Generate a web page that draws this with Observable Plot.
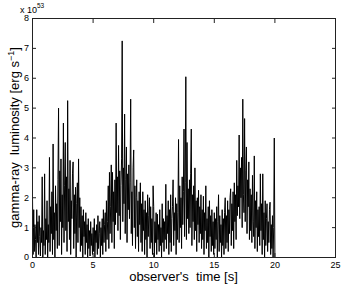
<!DOCTYPE html>
<html><head><meta charset="utf-8">
<script src="https://cdn.jsdelivr.net/npm/d3@7"></script>
<script src="https://cdn.jsdelivr.net/npm/@observablehq/plot@0.6"></script>
<style>html,body{margin:0;padding:0;background:#fff;} svg{display:block}</style>
</head><body><div id="chart"></div>
<script>
// sample spacing of the light curve (s)
const dt = 0.05;
// luminosity in units of 1e53 erg/s, one array per second of observer time
const sec00 = [2.1, 0.1, 1.6, 0.2, 1.1, 0.6, 0.0, 1.6, 0.5, 1.2, 0.1, 1.4, 0.7, 0.05, 1.0, 0.5, 2.7, 0.0, 0.9, 0.4];
const sec01 = [2.8, 0.1, 1.3, 0.6, 1.9, 0.0, 1.1, 0.5, 3.35, 0.2, 1.7, 0.8, 2.2, 0.1, 3.8, 0.6, 1.5, 0.0, 2.4, 0.9];
const sec02 = [1.8, 0.3, 2.6, 5.0, 0.4, 2.9, 1.2, 3.3, 0.1, 2.1, 1.0, 4.5, 0.5, 2.4, 3.85, 0.9, 2.7, 0.2, 5.25, 1.2];
const sec03 = [2.3, 0.6, 3.25, 0.1, 1.9, 1.3, 2.8, 3.2, 0.3, 2.1, 0.8, 2.35, 0.0, 1.8, 2.5, 0.5, 3.3, 1.0, 2.0, 0.2];
const sec04 = [1.7, 0.4, 1.4, 0.0, 1.6, 0.7, 1.2, 0.1, 1.5, 0.5, 1.1, 0.0, 1.3, 0.3, 0.9, 0.05, 1.2, 0.4, 0.8, 0.1];
const sec05 = [1.0, 0.2, 1.3, 0.0, 0.9, 0.5, 1.1, 0.1, 1.4, 0.3, 0.8, 1.2, 0.0, 1.0, 0.4, 1.3, 0.1, 1.6, 0.5, 1.1];
const sec06 = [1.5, 0.2, 1.9, 0.6, 1.2, 2.4, 0.3, 2.85, 0.8, 1.7, 3.1, 0.5, 2.85, 1.2, 2.2, 0.3, 2.6, 1.1, 4.5, 1.5];
const sec07 = [2.7, 0.9, 3.75, 1.4, 2.9, 0.6, 2.4, 3.3, 7.25, 1.2, 3.0, 1.8, 4.8, 0.8, 2.6, 3.7, 0.5, 2.8, 1.6, 3.1];
const sec08 = [1.3, 2.5, 5.3, 0.8, 2.2, 0.4, 3.0, 3.6, 1.0, 2.4, 0.3, 2.0, 2.6, 0.7, 1.9, 0.2, 2.2, 1.1, 2.5, 0.5];
const sec09 = [1.8, 0.2, 2.2, 0.9, 1.6, 0.1, 1.9, 0.6, 1.5, 0.0, 2.1, 0.7, 1.4, 2.0, 0.3, 1.7, 0.5, 1.3, 0.1, 2.4];
const sec10 = [1.7, 0.0, 1.2, 0.5, 1.5, 0.1, 1.45, 0.6, 1.1, 0.2, 1.6, 0.4, 1.0, 0.0, 1.8, 0.5, 1.3, 0.2, 1.2, 0.6];
const sec11 = [2.45, 0.3, 1.4, 0.8, 1.9, 0.1, 1.6, 0.5, 2.1, 0.2, 1.3, 1.7, 2.6, 0.4, 1.5, 0.9, 2.0, 0.1, 1.8, 0.6];
const sec12 = [1.5, 3.95, 0.5, 2.4, 1.0, 2.0, 0.3, 2.7, 1.1, 2.2, 4.3, 0.7, 2.5, 6.05, 0.6, 3.85, 1.3, 2.3, 0.8, 2.6];
const sec13 = [1.0, 2.8, 4.3, 0.4, 2.1, 1.2, 2.4, 0.6, 3.0, 0.9, 1.9, 0.2, 2.0, 1.1, 2.25, 0.5, 1.7, 0.8, 2.1, 0.3];
const sec14 = [1.6, 0.6, 2.05, 0.1, 1.5, 0.9, 2.4, 0.3, 1.3, 0.5, 1.7, 0.0, 1.9, 0.7, 1.4, 0.2, 1.6, 0.4, 1.2, 0.1];
const sec15 = [1.5, 0.3, 1.3, 0.6, 1.7, 0.0, 1.2, 2.1, 0.2, 1.4, 0.5, 1.1, 0.0, 1.6, 0.4, 1.3, 0.1, 1.5, 2.0, 0.3];
const sec16 = [1.4, 0.5, 1.9, 0.2, 1.6, 0.8, 2.0, 2.3, 0.4, 1.8, 0.9, 2.2, 0.3, 2.5, 1.2, 2.1, 0.6, 3.25, 1.4, 2.4];
const sec17 = [1.7, 4.1, 1.3, 3.0, 2.0, 3.35, 1.0, 5.3, 2.1, 1.5, 4.65, 1.2, 2.9, 3.7, 0.8, 2.6, 1.7, 3.2, 0.6, 2.3];
const sec18 = [0.9, 2.1, 0.5, 2.75, 1.2, 0.7, 3.4, 0.3, 1.9, 1.0, 2.2, 0.2, 1.6, 0.7, 1.7, 0.4, 2.8, 0.9, 1.8, 0.1];
const sec19 = [2.8, 0.6, 1.5, 0.0, 1.9, 0.4, 1.3, 1.8, 0.2, 1.2, 0.5, 1.6, 1.85, 0.1, 1.1, 0.3, 1.4, 0.0, 1.0, 4.0];
const tail = [0.0];

const xTicks = [0, 5, 10, 15, 20, 25];
const yTicks = [0, 1, 2, 3, 4, 5, 6, 7, 8];
const xLabel = "observer's  time [s]";
const yLabelMain = "gamma-ray  luminosity [erg s";
const yLabelSup = "\u22121";
const scaleBase = "x 10";
const scaleExp = "53";

const lum = [].concat(sec00, sec01, sec02, sec03, sec04, sec05, sec06, sec07, sec08, sec09,
  sec10, sec11, sec12, sec13, sec14, sec15, sec16, sec17, sec18, sec19, tail);
const data = lum.map((v, i) => ({t: i * dt, L: v}));

const font = "'Liberation Sans', Arial, Helvetica, sans-serif";
const axisColor = "#222";

const chart = Plot.plot({
  width: 343, height: 286,
  marginLeft: 32, marginRight: 8, marginTop: 18, marginBottom: 29,
  style: {fontFamily: font, fontSize: "9px", color: "#000", background: "#fff"},
  x: {domain: [0, 25]},
  y: {domain: [0, 8]},
  marks: [
    Plot.line(data, {x: "t", y: "L", stroke: "#000", strokeWidth: 1}),
    Plot.frame({stroke: axisColor}),
    Plot.axisX({ticks: xTicks, anchor: "bottom", tickSize: 0, tickPadding: 4, label: null, fill: "#000", fontSize: 9}),
    Plot.axisX({ticks: xTicks, anchor: "bottom", tickSize: -4, tickFormat: () => "", label: null, stroke: axisColor}),
    Plot.axisX({ticks: xTicks, anchor: "top", tickSize: -4, tickFormat: () => "", label: null, stroke: axisColor}),
    Plot.axisY({ticks: yTicks, anchor: "left", tickSize: 0, tickPadding: 3.5, label: null, fill: "#000", fontSize: 9}),
    Plot.axisY({ticks: yTicks, anchor: "left", tickSize: -4, tickFormat: () => "", label: null, stroke: axisColor}),
    Plot.axisY({ticks: yTicks, anchor: "right", tickSize: -4, tickFormat: () => "", label: null, stroke: axisColor})
  ]
});
document.getElementById("chart").appendChild(chart);

const svg = d3.select(chart);
// exponent note above the y axis
const ex = svg.append("text").attr("x", 32).attr("y", 12.5)
  .attr("font-family", font).attr("font-size", 9).attr("fill", "#000");
ex.append("tspan").text(scaleBase);
ex.append("tspan").attr("dy", -4.5).attr("font-size", 6.5).text(scaleExp);

// x label
svg.append("text").attr("x", 183.5).attr("y", 281)
  .attr("text-anchor", "middle").attr("font-family", font).attr("font-size", 13)
  .style("white-space", "pre").attr("fill", "#000").text(xLabel);

// y label
const yl = svg.append("text").attr("transform", "translate(18.5,137.5) rotate(-90)")
  .attr("text-anchor", "middle").attr("font-family", font).attr("font-size", 13)
  .style("white-space", "pre").attr("fill", "#000");
yl.append("tspan").text(yLabelMain);
yl.append("tspan").attr("dy", -5).attr("font-size", 9).text(yLabelSup);
yl.append("tspan").attr("dy", 5).text("]");
</script>
</body></html>
